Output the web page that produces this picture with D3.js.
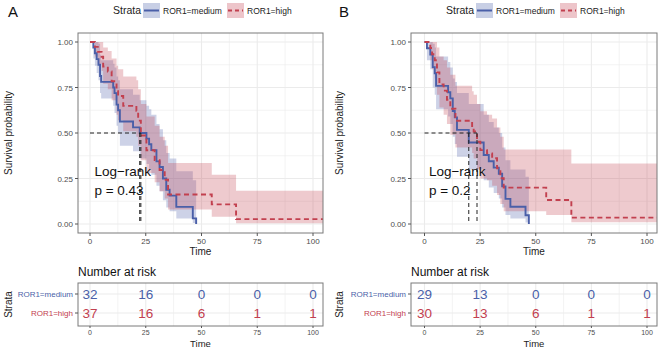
<!DOCTYPE html>
<html>
<head>
<meta charset="utf-8">
<script src="https://cdn.jsdelivr.net/npm/d3@7"></script>
<style>
  body { margin: 0; background: #fff; }
  svg { display: block; font-family: "Liberation Sans", Arial, sans-serif; }
</style>
</head>
<body>
<svg id="chart" width="662" height="348"></svg>
<script>
// ---- data ----
const strata = ["ROR1=medium", "ROR1=high"];
const xTicks = [0, 25, 50, 75, 100];
const yTicks = [0, 0.25, 0.5, 0.75, 1];
const yTickLabels = ["0.00", "0.25", "0.50", "0.75", "1.00"];
const riskTimes = [0, 25, 50, 75, 100];

// panel A, ROR1=medium
const timeAMed = [0, 1.5, 2.2, 3, 3.8, 4.5, 5, 10.4, 11, 11.9, 12.6, 13.4, 19.3, 22.3, 25.3, 26.5, 27.5, 29.8, 31.2, 32.7, 34.2, 35.7, 38.7, 46.1, 47.6];
const survAMed = [1, .969, .938, .906, .875, .813, .781, .75, .719, .656, .625, .563, .531, .5, .469, .438, .406, .344, .313, .25, .188, .156, .094, .031, 0];
const lowAMed  = [1, .91, .87, .83, .79, .72, .69, .65, .61, .54, .5, .43, .4, .36, .33, .3, .27, .21, .18, .13, .09, .07, .03, .005, .005];
const upAMed   = [1, 1, 1, 1, .99, .93, .9, .88, .86, .81, .79, .74, .71, .68, .65, .63, .6, .55, .52, .46, .39, .36, .29, .24, .24];
// panel A, ROR1=high
const timeAHigh = [0, 2.2, 3.5, 5.2, 5.9, 8, 9.7, 11.9, 12.6, 14.9, 20.8, 21.6, 22.8, 25.3, 29, 31.2, 33.5, 35, 54.6, 65.5, 106];
const survAHigh = [1, .973, .946, .919, .865, .838, .784, .73, .703, .649, .622, .568, .486, .405, .351, .297, .243, .162, .108, .027, .027];
const lowAHigh  = [1, .92, .88, .84, .77, .74, .68, .6, .57, .51, .48, .43, .35, .28, .23, .18, .14, .08, .04, .004, .004];
const upAHigh   = [1, 1, 1, 1, .97, .95, .91, .87, .85, .81, .79, .74, .66, .59, .54, .48, .43, .335, .27, .183, .183];

// panel B, ROR1=medium
const timeBMed = [0, 1.1, 2.6, 3.7, 4.6, 5.2, 10.6, 11.6, 12.7, 13.6, 14.6, 19.9, 26.6, 28.9, 31.1, 33.4, 34.9, 36.4, 38.6, 45.4, 46.9];
const survBMed = [1, .966, .931, .862, .828, .759, .724, .69, .621, .586, .517, .448, .379, .345, .31, .276, .207, .138, .095, .048, 0];
const lowBMed  = [1, .9, .85, .75, .71, .63, .59, .55, .48, .44, .37, .3, .24, .2, .17, .14, .09, .05, .03, .008, .008];
const upBMed   = [1, 1, 1, .99, .97, .92, .89, .86, .8, .78, .72, .66, .6, .56, .53, .5, .42, .35, .3, .26, .26];
// panel B, ROR1=high
const timeBHigh = [0, 2.6, 3.4, 4.6, 5.6, 6.7, 8.6, 10.1, 11.6, 13.9, 21.4, 22.1, 23.6, 25.1, 28.1, 30.4, 32.6, 34.1, 35.6, 54.7, 66, 106];
const survBHigh = [1, .967, .933, .9, .833, .767, .733, .683, .633, .567, .533, .508, .452, .406, .388, .361, .306, .251, .2, .132, .035, .035];
const lowBHigh  = [1, .9, .85, .8, .71, .64, .6, .55, .49, .42, .39, .36, .3, .25, .24, .21, .16, .11, .07, .05, .01, .01];
const upBHigh   = [1, 1, 1, 1, .97, .92, .9, .86, .82, .76, .73, .71, .66, .62, .6, .58, .53, .48, .41, .41, .333, .233];

// number at risk
const riskAMed = [32, 16, 0, 0, 0];
const riskAHigh = [37, 16, 6, 1, 1];
const riskBMed = [29, 13, 0, 0, 0];
const riskBHigh = [30, 13, 6, 1, 1];

const pA = "p = 0.43";
const pB = "p = 0.2";

const colMed = "#4a5fa8";
const colHigh = "#c2404f";
const gridCol = "#ebebeb";

const zip = (t, s, lo, hi) => t.map((v, i) => ({t: v, s: s[i], lo: lo[i], hi: hi[i]}));

const panels = [
  {tag: "A", ox: 0, x0: 90, x100: 313, box: [78, 323], legendX: 113,
   med: zip(timeAMed, survAMed, lowAMed, upAMed), high: zip(timeAHigh, survAHigh, lowAHigh, upAHigh),
   p: pA, riskMed: riskAMed, riskHigh: riskAHigh},
  {tag: "B", ox: 331, x0: 424.5, x100: 647, box: [411, 657], legendX: 446,
   med: zip(timeBMed, survBMed, lowBMed, upBMed), high: zip(timeBHigh, survBHigh, lowBHigh, upBHigh),
   p: pB, riskMed: riskBMed, riskHigh: riskBHigh}
];

const svg = d3.select("#chart");
const plotTop = 33, plotBottom = 233;
const y = d3.scaleLinear().domain([0, 1]).range([224, 42]);

function median(d) {
  const hit = d.find(p => p.s <= 0.5);
  return hit ? hit.t : null;
}

panels.forEach((P, pi) => {
  const g = svg.append("g");
  const x = d3.scaleLinear().domain([0, 100]).range([P.x0, P.x100]);
  const [bl, br] = P.box;

  // panel tag
  g.append("text").attr("x", P.ox + 8).attr("y", 17).attr("font-size", 15).attr("fill", "#111").text(P.tag);

  // legend
  const lg = g.append("g").attr("transform", `translate(${P.legendX},0)`);
  lg.append("text").attr("x", 0).attr("y", 14).attr("font-size", 10.5).attr("fill", "#222").text("Strata");
  const keys = [
    {name: strata[0], col: colMed, dash: null, kx: 30, tx: 50},
    {name: strata[1], col: colHigh, dash: "4,3", kx: 114, tx: 134}
  ];
  keys.forEach(k => {
    lg.append("rect").attr("x", k.kx).attr("y", 3).attr("width", 17).attr("height", 15)
      .attr("fill", k.col).attr("fill-opacity", 0.3);
    lg.append("line").attr("x1", k.kx + 1).attr("x2", k.kx + 16).attr("y1", 10.5).attr("y2", 10.5)
      .attr("stroke", k.col).attr("stroke-width", 2).attr("stroke-dasharray", k.dash);
    lg.append("text").attr("x", k.tx).attr("y", 13.5).attr("font-size", 8.5).attr("fill", "#222").text(k.name);
  });

  // grid
  const grid = g.append("g");
  const minorX = [12.5, 37.5, 62.5, 87.5];
  const minorY = [0.125, 0.375, 0.625, 0.875];
  minorX.forEach(v => grid.append("line").attr("x1", x(v)).attr("x2", x(v)).attr("y1", plotTop).attr("y2", plotBottom).attr("stroke", gridCol).attr("stroke-width", 0.6));
  minorY.forEach(v => grid.append("line").attr("x1", bl).attr("x2", br).attr("y1", y(v)).attr("y2", y(v)).attr("stroke", gridCol).attr("stroke-width", 0.6));
  xTicks.forEach(v => grid.append("line").attr("x1", x(v)).attr("x2", x(v)).attr("y1", plotTop).attr("y2", plotBottom).attr("stroke", gridCol).attr("stroke-width", 1.1));
  yTicks.forEach(v => grid.append("line").attr("x1", bl).attr("x2", br).attr("y1", y(v)).attr("y2", y(v)).attr("stroke", gridCol).attr("stroke-width", 1.1));

  // clip
  const clipId = "clip" + pi;
  svg.append("clipPath").attr("id", clipId).append("rect")
    .attr("x", bl).attr("y", plotTop).attr("width", br - bl).attr("height", plotBottom - plotTop);
  const plot = g.append("g").attr("clip-path", `url(#${clipId})`);

  const area = d3.area().curve(d3.curveStepAfter).x(d => x(d.t)).y0(d => y(d.lo)).y1(d => y(d.hi));
  const line = d3.line().curve(d3.curveStepAfter).x(d => x(d.t)).y(d => y(d.s));

  plot.append("path").datum(P.med).attr("d", area).attr("fill", colMed).attr("fill-opacity", 0.28);
  plot.append("path").datum(P.high).attr("d", area).attr("fill", colHigh).attr("fill-opacity", 0.28);
  plot.append("path").datum(P.med).attr("d", line).attr("fill", "none").attr("stroke", colMed).attr("stroke-width", 1.9);
  plot.append("path").datum(P.high).attr("d", line).attr("fill", "none").attr("stroke", colHigh)
    .attr("stroke-width", 1.9).attr("stroke-dasharray", "5,3.5");

  // median lines
  const meds = [median(P.med), median(P.high)].filter(v => v !== null);
  plot.append("line").attr("x1", x(0)).attr("x2", x(d3.max(meds))).attr("y1", y(0.5)).attr("y2", y(0.5))
    .attr("stroke", "#222").attr("stroke-width", 1).attr("stroke-dasharray", "4,3");
  meds.forEach(m => plot.append("line").attr("x1", x(m)).attr("x2", x(m)).attr("y1", y(0.5)).attr("y2", y(0))
    .attr("stroke", "#222").attr("stroke-width", 1).attr("stroke-dasharray", "4,3"));

  // log-rank label
  const lr = g.append("text").attr("font-size", 13.5).attr("fill", "#111");
  lr.append("tspan").attr("x", x(2)).attr("y", 176).text("Log\u2212rank");
  lr.append("tspan").attr("x", x(2)).attr("y", 195).text(P.p);

  // border
  g.append("rect").attr("x", bl).attr("y", plotTop).attr("width", br - bl).attr("height", plotBottom - plotTop)
    .attr("fill", "none").attr("stroke", "#7a7a7a").attr("stroke-width", 1);

  // y axis
  yTicks.forEach((v, i) => {
    g.append("line").attr("x1", bl - 3).attr("x2", bl).attr("y1", y(v)).attr("y2", y(v)).attr("stroke", "#555");
    g.append("text").attr("x", bl - 5).attr("y", y(v) + 3).attr("text-anchor", "end")
      .attr("font-size", 8).attr("fill", "#4d4d4d").text(yTickLabels[i]);
  });
  g.append("text").attr("transform", `translate(${P.ox + 12},${(plotTop + plotBottom) / 2}) rotate(-90)`)
    .attr("text-anchor", "middle").attr("font-size", 10).attr("fill", "#222").text("Survival probability");

  // x axis
  xTicks.forEach(v => {
    g.append("line").attr("x1", x(v)).attr("x2", x(v)).attr("y1", plotBottom).attr("y2", plotBottom + 3).attr("stroke", "#555");
    g.append("text").attr("x", x(v)).attr("y", plotBottom + 11).attr("text-anchor", "middle")
      .attr("font-size", 8).attr("fill", "#4d4d4d").text(v);
  });
  g.append("text").attr("x", (bl + br) / 2).attr("y", 255).attr("text-anchor", "middle")
    .attr("font-size", 10).attr("fill", "#222").text("Time");

  // ---- risk table ----
  const tTop = 283, tBottom = 326;
  const rowY = d3.scalePoint().domain(strata).range([294, 313]);
  g.append("text").attr("x", bl).attr("y", 276).attr("font-size", 12).attr("fill", "#111").text("Number at risk");
  const tg = g.append("g");
  minorX.forEach(v => tg.append("line").attr("x1", x(v)).attr("x2", x(v)).attr("y1", tTop).attr("y2", tBottom).attr("stroke", gridCol).attr("stroke-width", 0.6));
  xTicks.forEach(v => tg.append("line").attr("x1", x(v)).attr("x2", x(v)).attr("y1", tTop).attr("y2", tBottom).attr("stroke", gridCol).attr("stroke-width", 1.1));
  strata.forEach(s => tg.append("line").attr("x1", bl).attr("x2", br).attr("y1", rowY(s)).attr("y2", rowY(s)).attr("stroke", gridCol).attr("stroke-width", 1.1));
  tg.append("rect").attr("x", bl).attr("y", tTop).attr("width", br - bl).attr("height", tBottom - tTop)
    .attr("fill", "none").attr("stroke", "#7a7a7a").attr("stroke-width", 1);

  const rows = [{s: strata[0], vals: P.riskMed, col: colMed}, {s: strata[1], vals: P.riskHigh, col: colHigh}];
  rows.forEach(r => {
    riskTimes.forEach((t, i) => {
      tg.append("text").attr("x", x(t)).attr("y", rowY(r.s) + 5).attr("text-anchor", "middle")
        .attr("font-size", 13.5).attr("fill", r.col).text(r.vals[i]);
    });
    tg.append("line").attr("x1", bl - 3).attr("x2", bl).attr("y1", rowY(r.s)).attr("y2", rowY(r.s)).attr("stroke", "#555");
    tg.append("text").attr("x", bl - 5).attr("y", rowY(r.s) + 3).attr("text-anchor", "end")
      .attr("font-size", 8).attr("fill", r.col).text(r.s);
  });
  tg.append("text").attr("transform", `translate(${P.ox + 12},${(tTop + tBottom) / 2}) rotate(-90)`)
    .attr("text-anchor", "middle").attr("font-size", 10).attr("fill", "#222").text("Strata");
  xTicks.forEach(v => {
    tg.append("line").attr("x1", x(v)).attr("x2", x(v)).attr("y1", tBottom).attr("y2", tBottom + 2).attr("stroke", "#555");
    tg.append("text").attr("x", x(v)).attr("y", tBottom + 8.5).attr("text-anchor", "middle")
      .attr("font-size", 7).attr("fill", "#4d4d4d").text(v);
  });
  tg.append("text").attr("x", (bl + br) / 2).attr("y", 346.5).attr("text-anchor", "middle")
    .attr("font-size", 9.5).attr("fill", "#222").text("Time");
});
</script>
</body>
</html>
